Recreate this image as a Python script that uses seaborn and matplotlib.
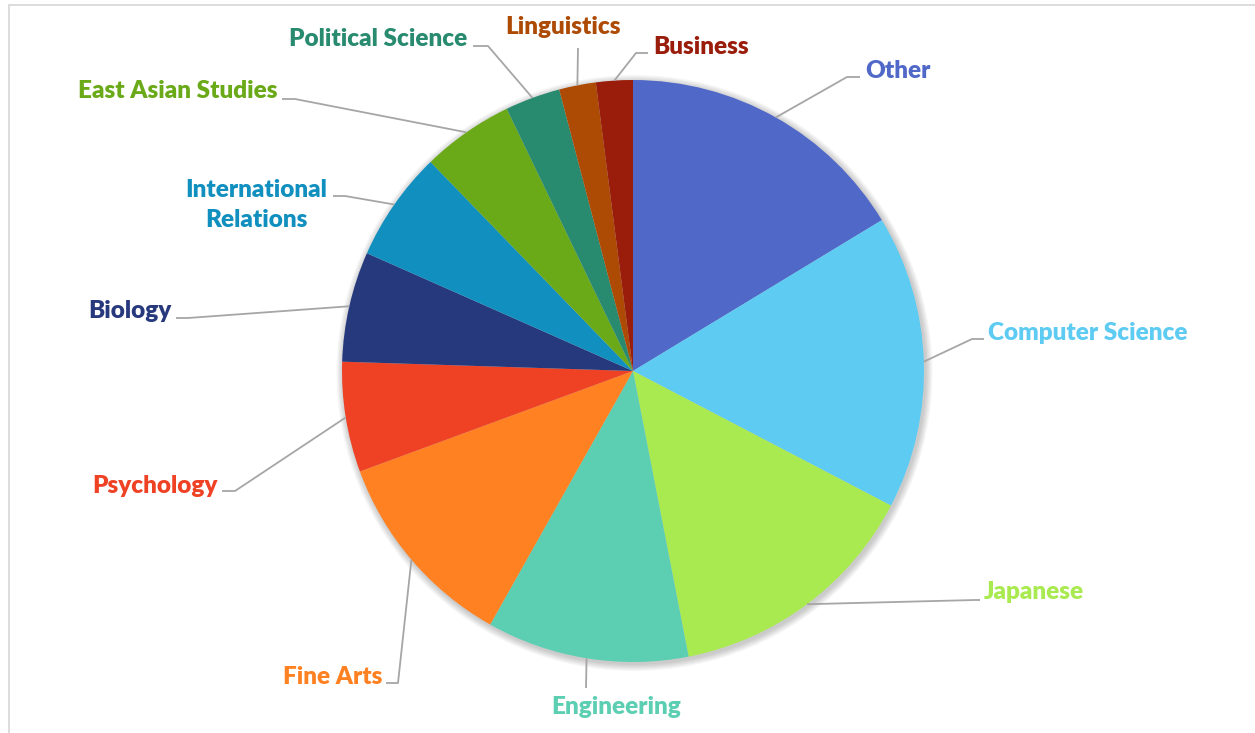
import matplotlib
matplotlib.use('Agg')
import matplotlib.pyplot as plt
import seaborn as sns
import numpy as np
from matplotlib.patches import Rectangle, Circle

# data (student counts by major)
majors = ["Other", "Computer Science", "Japanese", "Engineering", "Fine Arts",
          "Psychology", "Biology", "International\nRelations", "East Asian Studies",
          "Political Science", "Linguistics", "Business"]
counts = [16, 16, 14, 11, 11, 6, 6, 6, 5, 3, 2, 2]
colors = ["#5068C8", "#5DCBF2", "#A9EA50", "#5CCFB2", "#FF8122", "#EF4225",
          "#27397D", "#1190BF", "#6AA917", "#288A6F", "#AD4A03", "#9A1D0C"]

# label layout in pixel coords (x, y from top): elbow, line end, text pos, ha
layout = {
    "Other": ((847, 77), (860, 77), (865, 71), "left"),
    "Computer Science": ((972, 339), (984, 339), (988, 333), "left"),
    "Japanese": ((975, 600), (980, 600), (984, 592), "left"),
    "Engineering": ((586, 688), (586, 688), (616, 707), "center"),
    "Fine Arts": ((398, 683), (386, 683), (382, 677), "right"),
    "Psychology": ((235, 491), (222, 491), (218, 486), "right"),
    "Biology": ((188, 318), (176, 318), (171, 311), "right"),
    "International\nRelations": ((345, 196), (333, 196), (256, 205), "center"),
    "East Asian Studies": ((295, 99), (282, 99), (277, 91), "right"),
    "Political Science": ((488, 46), (473, 46), (467, 39), "right"),
    "Linguistics": ((578, 48), (578, 48), (563, 27), "center"),
    "Business": ((636, 53), (648, 53), (653, 47), "left"),
}

W, H = 1255, 733
sns.set_theme(style="white")
plt.rcParams['font.family'] = ['Lato', 'DejaVu Sans']

fig = plt.figure(figsize=(W / 100, H / 100), dpi=100)
ax = fig.add_axes([0, 0, 1, 1])

cx, cy, r = 633, H - 371, 291

# chart border
ax.add_patch(Rectangle((9, -20), W + 40, H - 5 + 20, fill=False,
                       edgecolor="#D9D9D9", linewidth=1.3, zorder=0))

# soft shadow around the pie
for k in range(6):
    ax.add_patch(Circle((cx + 1.5, cy - 2), r + 1 + k * 1.2, color="black",
                        alpha=0.035, linewidth=0, zorder=1))

wedges, _ = ax.pie(counts, colors=colors, startangle=90, counterclock=False,
                   center=(cx, cy), radius=r, frame=True,
                   wedgeprops=dict(linewidth=0, zorder=2))
ax.set_xlim(0, W)
ax.set_ylim(0, H)
ax.set_aspect('equal')
ax.axis('off')

for w, name, col in zip(wedges, majors, colors):
    mid = np.deg2rad((w.theta1 + w.theta2) / 2)
    x0, y0 = cx + r * np.cos(mid), cy + r * np.sin(mid)
    (ex, ey), (lx, ly), (tx, ty), ha = layout[name]
    ax.plot([x0, ex, lx], [y0, H - ey, H - ly], color="#A6A6A6",
            linewidth=1.3, zorder=3, solid_capstyle='butt')
    ax.text(tx, H - ty, name, color=col, fontsize=17.5, fontweight='heavy',
            ha=ha, va='center', multialignment='center', linespacing=1.45,
            zorder=4)

fig.savefig("out.png", dpi=100)
plt.close(fig)
